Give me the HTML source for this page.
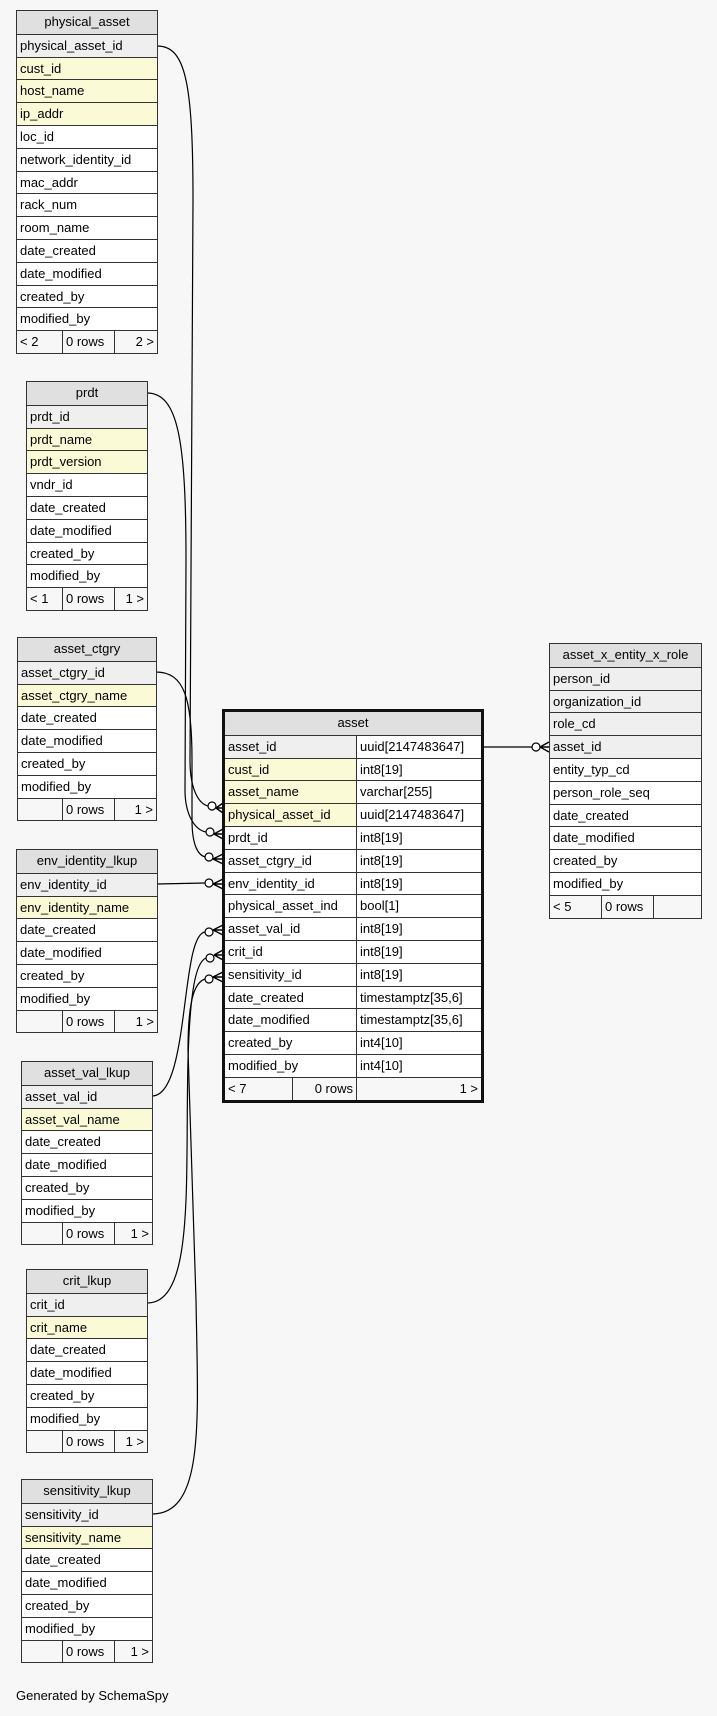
<!DOCTYPE html>
<html><head><meta charset="utf-8"><style>
body{margin:0;background:#f7f7f7;width:717px;height:1716px;position:relative;overflow:hidden;font-family:"Liberation Sans",Arial,sans-serif;font-size:13px;color:#000}
.t{position:absolute;border:1px solid #333;box-sizing:border-box;background:#fff}
.r{height:22.8px;box-sizing:border-box;border-top:1px solid #333;line-height:21px;padding-left:3px;white-space:nowrap;overflow:hidden;position:relative}
.r:first-child{border-top:none}
.h{background:#e0e0e0;text-align:center;padding-left:0}
.k{background:#efefef}
.y{background:#fafad6}
.f{display:flex;padding:0;background:#f7f7f7}
.f span{display:block;box-sizing:border-box;border-left:1px solid #333;padding:0 3px}
.f span:first-child{border-left:none}
.f .rt{text-align:right}
.c2{display:flex;padding:0}
.c2 span{display:block;box-sizing:border-box;padding-left:3px}
.c2 span+span{border-left:1px solid #333}
svg{position:absolute;left:0;top:0}
</style></head><body>
<svg width="717" height="1716" fill="none" stroke="#000" stroke-width="1.2">
<path d="M157,46 C185,46 193,80 193,200 L190,760 C190,792 200,804 208,806"/>
<path d="M147,393 C178,393 186,440 186,560 L185,790 C185,815 195,830 206,832"/>
<path d="M156,672 C185,672 192,700 192,760 L192,820 C192,845 198,855 205,857"/>
<path d="M157,884 L205,883"/>
<path d="M152,1096 C190,1096 180,935 205,932"/>
<path d="M147,1303 C195,1303 185,1180 188,1060 C190,990 196,962 206,958"/>
<path d="M152,1514 C205,1514 198,1420 196,1300 L188,1050 C188,995 196,982 205,979"/>
<path d="M483,747 L532,747"/>
<g fill="#fff">
<circle cx="212" cy="806" r="4"/><circle cx="210" cy="832" r="4"/><circle cx="209" cy="857" r="4"/><circle cx="209" cy="883" r="4"/><circle cx="209" cy="932" r="4"/><circle cx="210" cy="958" r="4"/><circle cx="209" cy="979" r="4"/><circle cx="536" cy="747" r="4"/>
</g>
<g stroke-width="1.4">
<path d="M216,808 L223,803 M216,808 L223,808 M216,808 L223,813"/>
<path d="M214,834 L223,829 M214,834 L223,834 M214,834 L223,839"/>
<path d="M213,859 L223,854 M213,859 L223,859 M213,859 L223,864"/>
<path d="M213,884 L223,879 M213,884 L223,884 M213,884 L223,889"/>
<path d="M213,930 L223,925 M213,930 L223,930 M213,930 L223,935"/>
<path d="M214,955 L223,950 M214,955 L223,955 M214,955 L223,960"/>
<path d="M213,977 L223,972 M213,977 L223,977 M213,977 L223,982"/>
<path d="M540,747 L549,742 M540,747 L549,747 M540,747 L549,752"/>
</g>
</svg>

<div class="t" style="left:16px;top:10px;width:142px">
<div class="r h">physical_asset</div><div class="r k">physical_asset_id</div><div class="r y">cust_id</div><div class="r y">host_name</div><div class="r y">ip_addr</div><div class="r">loc_id</div><div class="r">network_identity_id</div><div class="r">mac_addr</div><div class="r">rack_num</div><div class="r">room_name</div><div class="r">date_created</div><div class="r">date_modified</div><div class="r">created_by</div><div class="r">modified_by</div>
<div class="r f"><span style="width:45px">&lt; 2</span><span style="width:52px">0 rows</span><span class="rt" style="width:43px">2 &gt;</span></div>
</div>

<div class="t" style="left:26px;top:381px;width:122px">
<div class="r h">prdt</div><div class="r k">prdt_id</div><div class="r y">prdt_name</div><div class="r y">prdt_version</div><div class="r">vndr_id</div><div class="r">date_created</div><div class="r">date_modified</div><div class="r">created_by</div><div class="r">modified_by</div>
<div class="r f"><span style="width:35px">&lt; 1</span><span style="width:52px">0 rows</span><span class="rt" style="width:33px">1 &gt;</span></div>
</div>

<div class="t" style="left:17px;top:637px;width:140px">
<div class="r h">asset_ctgry</div><div class="r k">asset_ctgry_id</div><div class="r y">asset_ctgry_name</div><div class="r">date_created</div><div class="r">date_modified</div><div class="r">created_by</div><div class="r">modified_by</div>
<div class="r f"><span style="width:44px"></span><span style="width:52px">0 rows</span><span class="rt" style="width:42px">1 &gt;</span></div>
</div>

<div class="t" style="left:16px;top:849px;width:142px">
<div class="r h">env_identity_lkup</div><div class="r k">env_identity_id</div><div class="r y">env_identity_name</div><div class="r">date_created</div><div class="r">date_modified</div><div class="r">created_by</div><div class="r">modified_by</div>
<div class="r f"><span style="width:45px"></span><span style="width:52px">0 rows</span><span class="rt" style="width:43px">1 &gt;</span></div>
</div>

<div class="t" style="left:21px;top:1061px;width:132px">
<div class="r h">asset_val_lkup</div><div class="r k">asset_val_id</div><div class="r y">asset_val_name</div><div class="r">date_created</div><div class="r">date_modified</div><div class="r">created_by</div><div class="r">modified_by</div>
<div class="r f"><span style="width:40px"></span><span style="width:52px">0 rows</span><span class="rt" style="width:38px">1 &gt;</span></div>
</div>

<div class="t" style="left:26px;top:1269px;width:122px">
<div class="r h">crit_lkup</div><div class="r k">crit_id</div><div class="r y">crit_name</div><div class="r">date_created</div><div class="r">date_modified</div><div class="r">created_by</div><div class="r">modified_by</div>
<div class="r f"><span style="width:35px"></span><span style="width:52px">0 rows</span><span class="rt" style="width:33px">1 &gt;</span></div>
</div>

<div class="t" style="left:21px;top:1479px;width:132px">
<div class="r h">sensitivity_lkup</div><div class="r k">sensitivity_id</div><div class="r y">sensitivity_name</div><div class="r">date_created</div><div class="r">date_modified</div><div class="r">created_by</div><div class="r">modified_by</div>
<div class="r f"><span style="width:40px"></span><span style="width:52px">0 rows</span><span class="rt" style="width:38px">1 &gt;</span></div>
</div>

<div class="t" style="left:549px;top:643px;width:153px">
<div class="r h">asset_x_entity_x_role</div><div class="r k">person_id</div><div class="r k">organization_id</div><div class="r k">role_cd</div><div class="r k">asset_id</div><div class="r">entity_typ_cd</div><div class="r">person_role_seq</div><div class="r">date_created</div><div class="r">date_modified</div><div class="r">created_by</div><div class="r">modified_by</div>
<div class="r f"><span style="width:51px">&lt; 5</span><span style="width:52px">0 rows</span><span class="rt" style="width:48px"></span></div>
</div>

<div class="t" style="left:222px;top:709px;width:262px;border:3px solid #111">
<div class="r h">asset</div>
<div class="r c2 k"><span style="width:131px">asset_id</span><span style="background:#fff;flex:1">uuid[2147483647]</span></div>
<div class="r c2 y"><span style="width:131px">cust_id</span><span style="background:#fff;flex:1">int8[19]</span></div>
<div class="r c2 y"><span style="width:131px">asset_name</span><span style="background:#fff;flex:1">varchar[255]</span></div>
<div class="r c2 y"><span style="width:131px">physical_asset_id</span><span style="background:#fff;flex:1">uuid[2147483647]</span></div>
<div class="r c2"><span style="width:131px">prdt_id</span><span style="flex:1">int8[19]</span></div>
<div class="r c2"><span style="width:131px">asset_ctgry_id</span><span style="flex:1">int8[19]</span></div>
<div class="r c2"><span style="width:131px">env_identity_id</span><span style="flex:1">int8[19]</span></div>
<div class="r c2"><span style="width:131px">physical_asset_ind</span><span style="flex:1">bool[1]</span></div>
<div class="r c2"><span style="width:131px">asset_val_id</span><span style="flex:1">int8[19]</span></div>
<div class="r c2"><span style="width:131px">crit_id</span><span style="flex:1">int8[19]</span></div>
<div class="r c2"><span style="width:131px">sensitivity_id</span><span style="flex:1">int8[19]</span></div>
<div class="r c2"><span style="width:131px">date_created</span><span style="flex:1">timestamptz[35,6]</span></div>
<div class="r c2"><span style="width:131px">date_modified</span><span style="flex:1">timestamptz[35,6]</span></div>
<div class="r c2"><span style="width:131px">created_by</span><span style="flex:1">int4[10]</span></div>
<div class="r c2"><span style="width:131px">modified_by</span><span style="flex:1">int4[10]</span></div>
<div class="r f"><span style="width:67px">&lt; 7</span><span class="rt" style="width:64px">0 rows</span><span class="rt" style="flex:1">1 &gt;</span></div>
</div>

<div style="position:absolute;left:16px;top:1688px;font-size:13px">Generated by SchemaSpy</div>
</body></html>
